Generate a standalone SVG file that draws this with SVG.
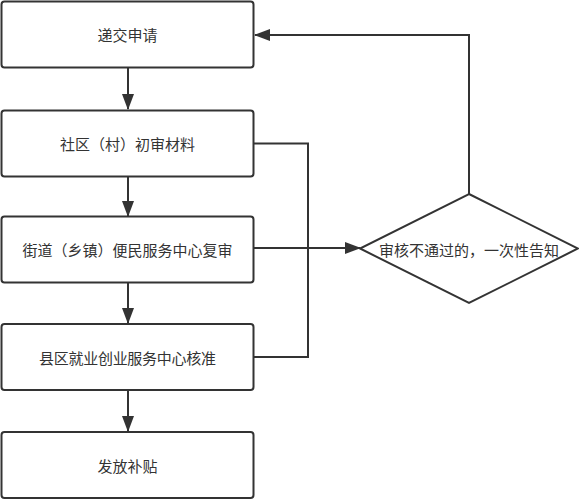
<svg xmlns="http://www.w3.org/2000/svg" width="579" height="500" viewBox="0 0 579 500">
<style>
.box{fill:#fff;stroke:#333;stroke-width:2}
.lbl{font-family:"Noto Sans CJK SC","Liberation Sans",sans-serif;font-size:15px;fill:#333;text-anchor:middle;dominant-baseline:central}
.conn{fill:none;stroke:#333;stroke-width:2}
</style>
<defs>
<marker id="arr" markerUnits="userSpaceOnUse" markerWidth="16" markerHeight="12" refX="15" refY="6" orient="auto">
<path d="M0,0 L16,6 L0,12 z" fill="#333"/>
</marker>
</defs>
<rect width="579" height="500" fill="#fff"/>
<g id="connectors">
<line class="conn" x1="128" y1="68" x2="128" y2="109" marker-end="url(#arr)"/>
<line class="conn" x1="128" y1="177" x2="128" y2="216" marker-end="url(#arr)"/>
<line class="conn" x1="128" y1="283" x2="128" y2="323" marker-end="url(#arr)"/>
<line class="conn" x1="128" y1="390" x2="128" y2="431" marker-end="url(#arr)"/>
<polyline class="conn" points="254,143.5 308,143.5 308,357 254,357"/>
<line class="conn" x1="254" y1="248" x2="360" y2="248" marker-end="url(#arr)"/>
<polyline class="conn" points="469,194 469,35 255,35" marker-end="url(#arr)"/>
</g>
<g id="n1"><rect class="box" x="1.5" y="1.5" width="252" height="66" rx="3"/><text class="lbl" x="127.5" y="34.5">递交申请</text></g>
<g id="n2"><rect class="box" x="1.5" y="110.5" width="252" height="66" rx="3"/><text class="lbl" x="127.5" y="143.5">社区（村）初审材料</text></g>
<g id="n3"><rect class="box" x="1.5" y="216.5" width="252" height="66" rx="3"/><text class="lbl" x="127.5" y="249.5">街道（乡镇）便民服务中心复审</text></g>
<g id="n4"><rect class="box" x="1.5" y="324" width="252" height="66" rx="3"/><text class="lbl" x="127.5" y="357" textLength="177" lengthAdjust="spacing">县区就业创业服务中心核准</text></g>
<g id="n5"><rect class="box" x="1.5" y="432" width="252" height="66" rx="3"/><text class="lbl" x="127.5" y="465">发放补贴</text></g>
<g id="d1"><polygon class="box" points="469,194 578,248.5 469,303 360,248.5"/><text class="lbl" x="469" y="249">审核不通过的，一次性告知</text></g>
</svg>
